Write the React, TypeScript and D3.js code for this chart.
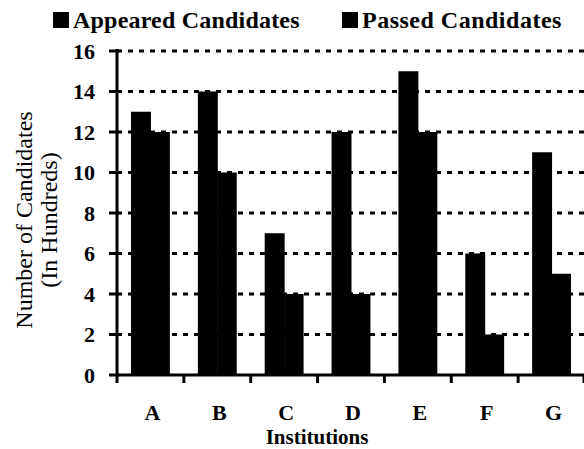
import React from "react";
import * as d3 from "d3";

const categories = ["A", "B", "C", "D", "E", "F", "G"];
const seriesNames = ["Appeared Candidates", "Passed Candidates"];
const appeared = [13, 14, 7, 12, 15, 6, 11];
const passed = [12, 10, 4, 4, 12, 2, 5];
const yTicks = [0, 2, 4, 6, 8, 10, 12, 14, 16];

const W = 584;
const H = 449;
const left = 117;
const right = 585;
const top = 51;
const bottom = 375;

const FONT = "Liberation Serif";

export default function App() {
  const x = d3.scaleBand<string>().domain(categories).range([left, right]).paddingInner(0).paddingOuter(0);
  const xs = d3.scaleBand<string>().domain(seriesNames).range([0, x.bandwidth()]).paddingInner(0).paddingOuter(0.72);
  const y = d3.scaleLinear().domain([0, 16]).range([bottom, top]);
  const values = [appeared, passed];
  const boundaries = categories.map((c) => x(c)!).concat([right - 1]);
  const ts = { fontFamily: FONT } as React.CSSProperties;

  return (
    <svg width={W} height={H} style={{ position: "absolute", left: 0, top: 0, background: "#fff" }}>
      {yTicks.filter((t) => t > 0).map((t) => (
        <line key={"g" + t} x1={left} x2={W} y1={y(t)} y2={y(t)} stroke="#000" strokeWidth={3} strokeDasharray="5,6" />
      ))}
      {seriesNames.map((s, si) =>
        categories.map((c, ci) => (
          <rect
            key={s + c}
            x={x(c)! + xs(s)!}
            y={y(values[si][ci])}
            width={xs.bandwidth() + (si === 0 ? 0.5 : 0)}
            height={bottom - y(values[si][ci])}
            fill="#000"
          />
        ))
      )}
      <line x1={left} x2={left} y1={top - 2} y2={bottom + 1} stroke="#000" strokeWidth={3} />
      <line x1={left} x2={W} y1={bottom} y2={bottom} stroke="#000" strokeWidth={3} />
      {yTicks.map((t) => (
        <g key={"yt" + t}>
          <line x1={left - 8} x2={left + 2} y1={y(t)} y2={y(t)} stroke="#000" strokeWidth={3} />
          <text x={left - 22} y={y(t)} dy="0.35em" textAnchor="end" fontWeight="bold" fontSize={22} style={ts}>
            {t}
          </text>
        </g>
      ))}
      {boundaries.map((b, i) => (
        <line key={"xt" + i} x1={b} x2={b} y1={bottom} y2={bottom + 8} stroke="#000" strokeWidth={3} />
      ))}
      {categories.map((c) => (
        <text key={"xl" + c} x={x(c)! + x.bandwidth() / 2 + 2} y={420} textAnchor="middle" fontWeight="bold" fontSize={22} style={ts}>
          {c}
        </text>
      ))}
      <text x={317} y={444} textAnchor="middle" fontWeight="bold" fontSize={21} style={ts}>
        Institutions
      </text>
      <text transform="translate(32,220) rotate(-90)" textAnchor="middle" fontSize={24} style={ts}>
        Number of Candidates
      </text>
      <text transform="translate(57,220) rotate(-90)" textAnchor="middle" fontSize={24} style={ts}>
        (In Hundreds)
      </text>
      {seriesNames.map((s, i) => {
        const lx = i === 0 ? 53 : 342;
        return (
          <g key={"lg" + s}>
            <rect x={lx} y={12} width={16} height={16} fill="#000" />
            <text x={lx + 20} y={28} fontWeight="bold" fontSize={24} letterSpacing={i === 1 ? 0.5 : 0.2} style={ts}>
              {s}
            </text>
          </g>
        );
      })}
    </svg>
  );
}
